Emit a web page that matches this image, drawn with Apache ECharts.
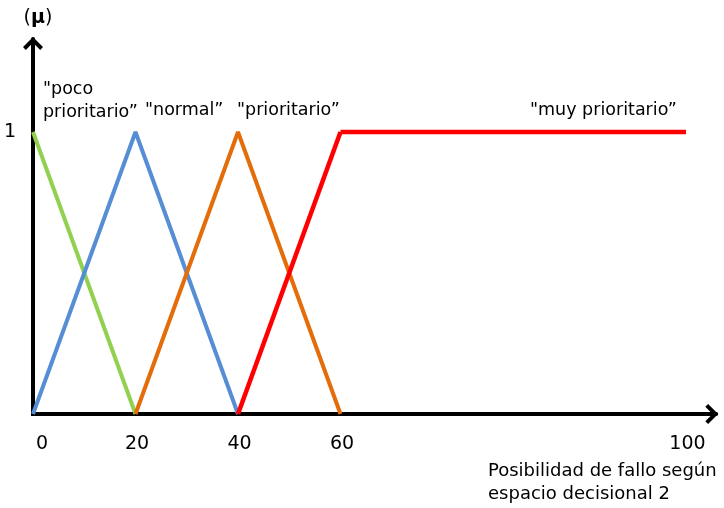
<!DOCTYPE html>
<html>
<head>
<meta charset="utf-8">
<script src="https://cdn.jsdelivr.net/npm/echarts@6/dist/echarts.min.js"></script>
<style>
  html, body { margin: 0; padding: 0; background: #fff; }
  #chart { width: 724px; height: 508px; }
</style>
</head>
<body>
<div id="chart"></div>
<script>
// Funciones de pertenencia: [posibilidad de fallo, grado de pertenencia μ]
const pocoPrioritario = [[0, 1], [20, 0]];
const normal = [[0, 0], [20, 1], [40, 0]];
const prioritario = [[20, 0], [40, 1], [60, 0]];
const muyPrioritario = [[40, 0], [60, 1], [100, 1]];

// Marcas de los ejes
const xTicksLeft = [0, 20, 40, 60];
const xTicksRight = [100];
const yTicks = [1];

// Etiquetas de los conjuntos borrosos
const labelPoco = '"poco\nprioritario”';
const labelNormal = '"normal”';
const labelPrioritario = '"prioritario”';
const labelMuy = '"muy prioritario”';
const xTitle = 'Posibilidad de fallo según\nespacio decisional 2';

const FONT = 'DejaVu Sans';
const SPLIT = 60; // tramo 0–60 en la primera rejilla, 60–100 en la segunda

// Flecha abierta (apunta hacia arriba; ECharts la gira según el eje)
const ARROW = 'path://M10,0L20,10L17.2,12.8L10,5.6L2.8,12.8L0,10Z';

const curves = [
  { name: 'poco prioritario', data: pocoPrioritario, color: '#92D050', width: 4 },
  { name: 'normal', data: normal, color: '#558ED5', width: 4 },
  { name: 'prioritario', data: prioritario, color: '#E46C0A', width: 4 },
  { name: 'muy prioritario', data: muyPrioritario, color: '#FF0000', width: 4.5 }
];

const series = [];
curves.forEach((c, i) => {
  const parts = [
    [c.data.filter(p => p[0] <= SPLIT), 0],
    [c.data.filter(p => p[0] >= SPLIT), 1]
  ];
  parts.forEach(([pts, g]) => {
    if (pts.length < 2) return;
    series.push({
      type: 'line',
      name: c.name,
      xAxisIndex: g,
      yAxisIndex: g,
      data: pts,
      symbol: 'none',
      silent: true,
      z: 2 + i,
      lineStyle: { color: c.color, width: c.width }
    });
  });
});

const tickLabel = { fontFamily: FONT, fontSize: 19, color: '#000' };
const annFont = '17.5px "' + FONT + '"';

const option = {
  animation: false,
  backgroundColor: '#fff',
  grid: [
    { left: 33, top: 39, width: 307.5, height: 375 },
    { left: 340.5, top: 39, width: 375.7, height: 375 }
  ],
  xAxis: [
    {
      gridIndex: 0, type: 'value', min: 0, max: SPLIT,
      axisLine: { show: true, onZero: false, lineStyle: { color: '#000', width: 4, cap: 'square' } },
      axisTick: { show: false },
      splitLine: { show: false },
      axisLabel: Object.assign({ customValues: xTicksLeft, margin: 21, alignMinLabel: 'left', padding: [0, 0, 0, 3] }, tickLabel)
    },
    {
      gridIndex: 1, type: 'value', min: SPLIT, max: 103.5,
      axisLine: {
        show: true, onZero: false,
        symbol: ['none', ARROW], symbolSize: [20, 13], symbolOffset: [0, -4.5],
        lineStyle: { color: '#000', width: 4 }
      },
      axisTick: { show: false },
      splitLine: { show: false },
      axisLabel: Object.assign({ customValues: xTicksRight, margin: 21, padding: [0, 0, 0, 3] }, tickLabel)
    }
  ],
  yAxis: [
    {
      gridIndex: 0, type: 'value', min: 0, max: 1.33,
      name: '({m|μ})', nameLocation: 'end', nameGap: 11,
      nameTextStyle: {
        fontFamily: FONT, fontSize: 19, color: '#000', align: 'center', padding: [0, 0, 0, 10],
        rich: { m: { fontFamily: FONT, fontSize: 19, fontWeight: 'bold', color: '#000' } }
      },
      axisLine: {
        show: true, onZero: false,
        symbol: ['none', ARROW], symbolSize: [20, 13], symbolOffset: [0, -4.5],
        lineStyle: { color: '#000', width: 4 }
      },
      axisTick: { show: false },
      splitLine: { show: false },
      axisLabel: Object.assign({ customValues: yTicks, margin: 17 }, tickLabel)
    },
    {
      gridIndex: 1, type: 'value', min: 0, max: 1.33, show: false
    }
  ],
  series: series,
  graphic: [
    { type: 'text', x: 43, y: 77.5, silent: true,
      style: { text: labelPoco, font: annFont, fill: '#000', lineHeight: 23, align: 'left', verticalAlign: 'top' } },
    { type: 'text', x: 145, y: 110, silent: true,
      style: { text: labelNormal, font: annFont, fill: '#000', align: 'left', verticalAlign: 'middle' } },
    { type: 'text', x: 237, y: 110, silent: true,
      style: { text: labelPrioritario, font: annFont, fill: '#000', align: 'left', verticalAlign: 'middle' } },
    { type: 'text', x: 530, y: 110, silent: true,
      style: { text: labelMuy, font: annFont, fill: '#000', align: 'left', verticalAlign: 'middle' } },
    { type: 'text', x: 488, y: 459.5, silent: true,
      style: { text: xTitle, font: '18px "' + FONT + '"', fill: '#000', lineHeight: 23, align: 'left', verticalAlign: 'top' } }
  ]
};

const chart = echarts.init(document.getElementById('chart'), null, { renderer: 'canvas' });
chart.setOption(option);
</script>
</body>
</html>
